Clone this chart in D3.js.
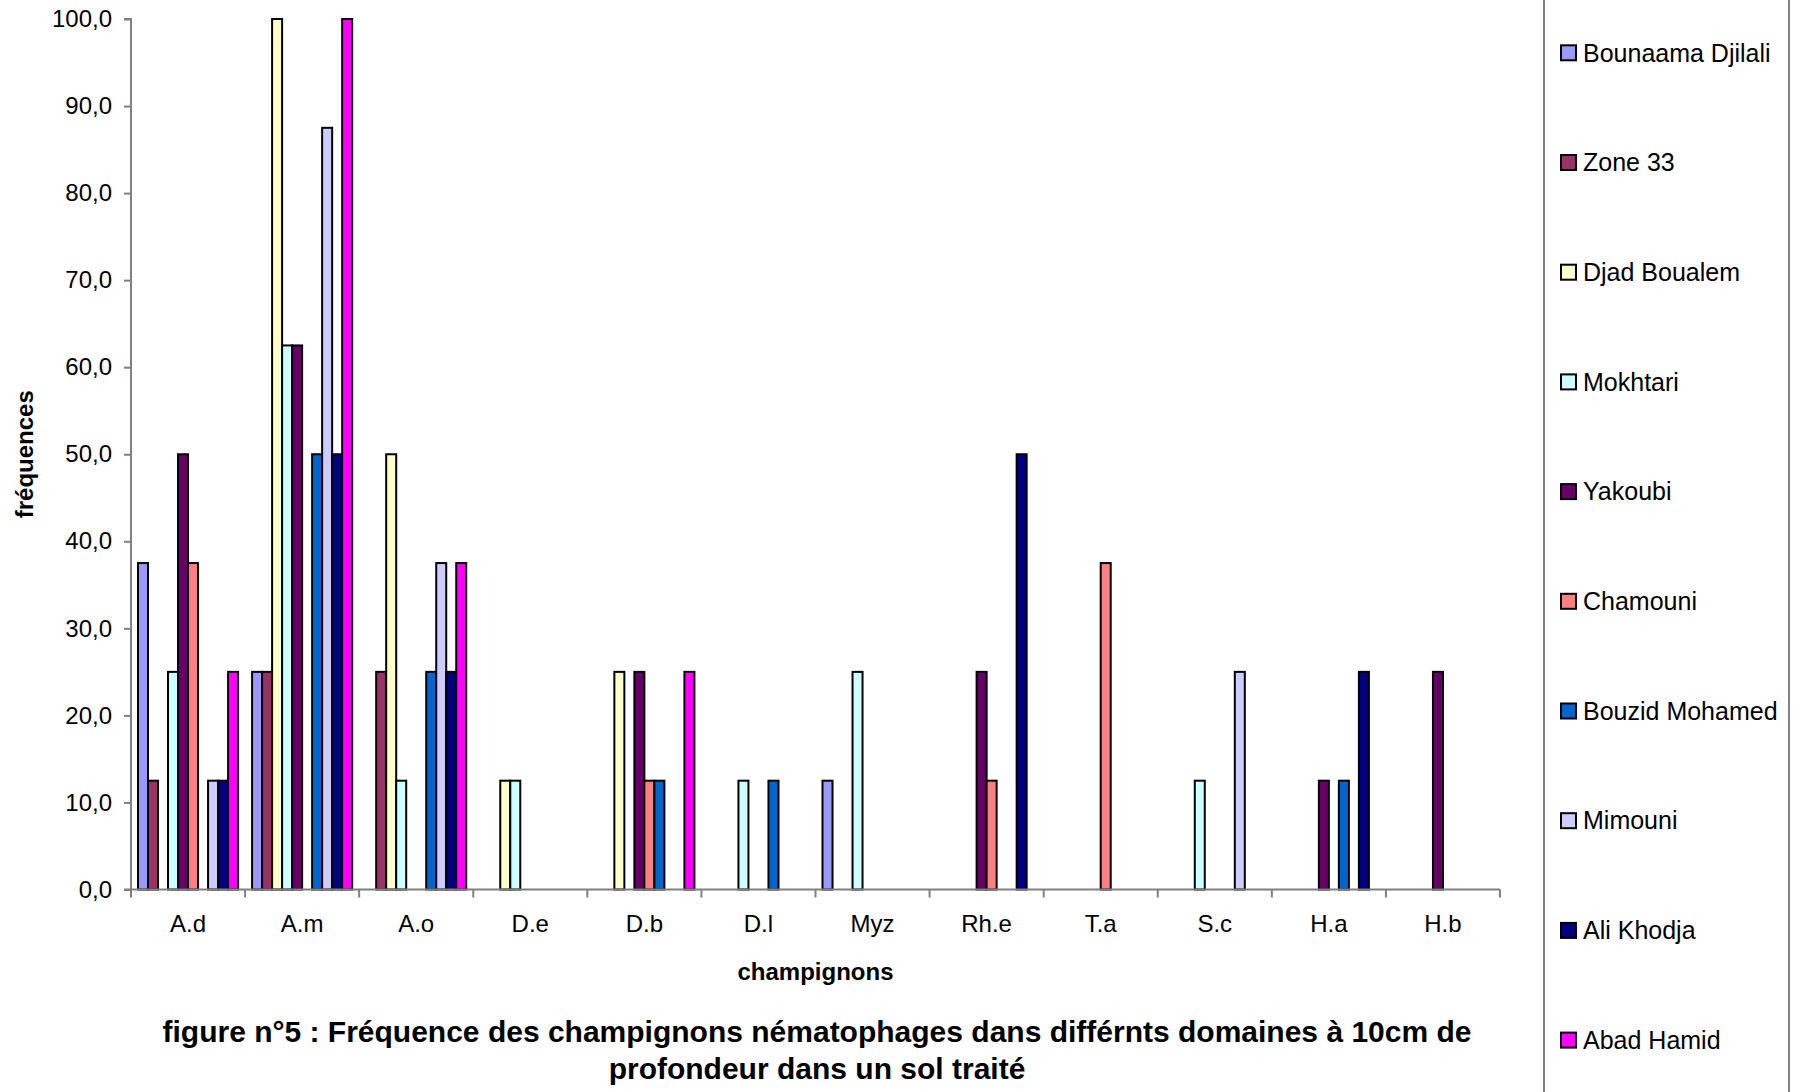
<!DOCTYPE html>
<html><head><meta charset="utf-8">
<script src="https://cdn.jsdelivr.net/npm/d3@7"></script>
<style>
html,body{margin:0;padding:0;background:#fff;}
svg{display:block;font-family:"Liberation Sans",Arial,sans-serif;}
</style></head>
<body>
<svg id="chart" width="1800" height="1092"></svg>
<script>
const categories = ["A.d","A.m","A.o","D.e","D.b","D.l","Myz","Rh.e","T.a","S.c","H.a","H.b"];
const seriesNames = ["Bounaama Djilali","Zone 33","Djad Boualem","Mokhtari","Yakoubi","Chamouni","Bouzid Mohamed","Mimouni","Ali Khodja","Abad Hamid"];
const seriesColors = ["#9999FF","#993366","#FFFFCC","#CCFFFF","#660066","#FF8080","#0066CC","#CCCCFF","#000080","#FF00FF"];
// values per series, in category order
const bounaama  = [37.5, 25,   0,    0,    0,    0,    12.5, 0,    0,    0,    0,    0];
const zone33    = [12.5, 25,   25,   0,    0,    0,    0,    0,    0,    0,    0,    0];
const djad      = [0,    100,  50,   12.5, 25,   0,    0,    0,    0,    0,    0,    0];
const mokhtari  = [25,   62.5, 12.5, 12.5, 0,    12.5, 25,   0,    0,    12.5, 0,    0];
const yakoubi   = [50,   62.5, 0,    0,    25,   0,    0,    25,   0,    0,    12.5, 25];
const chamouni  = [37.5, 0,    0,    0,    12.5, 0,    0,    12.5, 37.5, 0,    0,    0];
const bouzid    = [0,    50,   25,   0,    12.5, 12.5, 0,    0,    0,    0,    12.5, 0];
const mimouni   = [12.5, 87.5, 37.5, 0,    0,    0,    0,    0,    0,    25,   0,    0];
const aliKhodja = [12.5, 50,   25,   0,    0,    0,    0,    50,   0,    0,    25,   0];
const abadHamid = [25,   100,  37.5, 0,    25,   0,    0,    0,    0,    0,    0,    0];
const seriesValues = [bounaama, zone33, djad, mokhtari, yakoubi, chamouni, bouzid, mimouni, aliKhodja, abadHamid];
const yTicks = [0,10,20,30,40,50,60,70,80,90,100];
const xTitle = "champignons";
const yTitle = "fréquences";
const titleLines = ["figure n°5 : Fréquence des champignons nématophages dans différnts domaines à 10cm de","profondeur dans un sol traité"];

const svg = d3.select("#chart");
const pLeft = 131, pRight = 1500, pTop = 19, pBottom = 889.5;

const x0 = d3.scaleBand().domain(categories).range([pLeft, pRight]).padding(0);
const x1 = d3.scaleBand().domain(seriesNames).range([0, x0.bandwidth()]).paddingInner(0).paddingOuter(0.7);
const y = d3.scaleLinear().domain([0, 100]).range([pBottom, pTop]);
const color = d3.scaleOrdinal().domain(seriesNames).range(seriesColors);

// bars
const data = [];
seriesNames.forEach((s, si) => {
  categories.forEach((c, ci) => {
    const v = seriesValues[si][ci];
    if (v > 0) data.push({s, c, v});
  });
});
svg.append("g").selectAll("rect").data(data).join("rect")
  .attr("x", d => x0(d.c) + x1(d.s))
  .attr("y", d => y(d.v))
  .attr("width", x1.bandwidth())
  .attr("height", d => y(0) - y(d.v))
  .attr("fill", d => color(d.s))
  .attr("stroke", "#000")
  .attr("stroke-width", 2);

// y axis
const yAxis = svg.append("g").attr("transform", `translate(${pLeft},0)`)
  .call(d3.axisLeft(y).tickValues(yTicks).tickSize(7).tickPadding(12)
    .tickFormat(d => d.toFixed(1).replace(".", ",")));
yAxis.select(".domain").attr("stroke", "#808080").attr("stroke-width", 2).attr("d", `M-7,${pTop}H0V${pBottom}`);
yAxis.selectAll(".tick line").attr("stroke", "#808080").attr("stroke-width", 2);
yAxis.selectAll(".tick text").attr("font-size", 24).attr("fill", "#000")
  .attr("font-family", "Liberation Sans, Arial, sans-serif");

// x axis: line, boundary ticks, centered labels
const xg = svg.append("g");
xg.append("line").attr("x1", pLeft - 7).attr("x2", pRight).attr("y1", pBottom).attr("y2", pBottom)
  .attr("stroke", "#808080").attr("stroke-width", 2);
const bounds = categories.map(c => x0(c)).concat([x0(categories[categories.length-1]) + x0.bandwidth()]);
xg.selectAll("line.tk").data(bounds).join("line").attr("class","tk")
  .attr("x1", d => d).attr("x2", d => d).attr("y1", pBottom).attr("y2", pBottom + 8)
  .attr("stroke", "#808080").attr("stroke-width", 2);
xg.selectAll("text").data(categories).join("text")
  .attr("x", d => x0(d) + x0.bandwidth()/2).attr("y", 924)
  .attr("dy", "0.35em").attr("text-anchor", "middle")
  .attr("font-size", 24).attr("fill", "#000").text(d => d);

// axis titles
svg.append("text").attr("x", (pLeft + pRight)/2).attr("y", 972).attr("dy", "0.35em")
  .attr("text-anchor", "middle").attr("font-size", 24).attr("font-weight", "bold").text(xTitle);
svg.append("text").attr("transform", `translate(25,${(pTop+pBottom)/2}) rotate(-90)`)
  .attr("dy", "0.35em").attr("text-anchor", "middle").attr("font-size", 24).attr("font-weight", "bold").text(yTitle);

// chart title
svg.append("g").selectAll("text").data(titleLines).join("text")
  .attr("x", 817).attr("y", (d, i) => 1031 + i * 37).attr("dy", "0.35em")
  .attr("text-anchor", "middle").attr("font-size", 30).attr("font-weight", "bold").text(d => d);

// legend
svg.append("rect").attr("x", 1544).attr("y", -5).attr("width", 245).attr("height", 1102)
  .attr("fill", "none").attr("stroke", "#808080").attr("stroke-width", 2);
const lg = svg.append("g").selectAll("g").data(seriesNames).join("g")
  .attr("transform", (d, i) => `translate(1561,${52.8 + i * 109.7})`);
lg.append("rect").attr("x", 0).attr("y", -7.5).attr("width", 15).attr("height", 15)
  .attr("fill", d => color(d)).attr("stroke", "#000").attr("stroke-width", 2);
lg.append("text").attr("x", 22).attr("dy", "0.35em").attr("font-size", 25).attr("fill", "#000").text(d => d);
</script>
</body></html>
